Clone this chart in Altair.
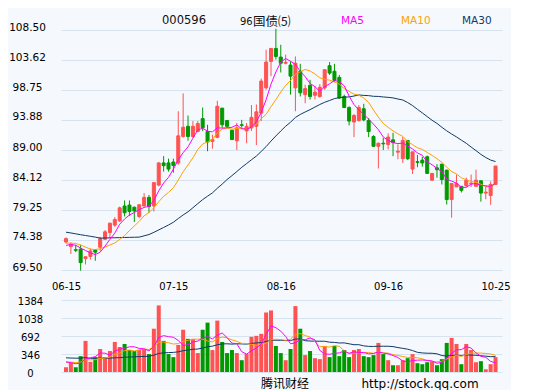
import altair as alt
import pandas as pd

# ---- axis ticks / labels ----
date_tick_index = [1, 23, 45, 67, 89]
date_tick_label = ["06-15", "07-15", "08-16", "09-16", "10-25"]
price_ticks = [69.50, 74.38, 79.25, 84.12, 89.00, 93.88, 98.75, 103.62, 108.50]
volume_ticks = [0, 346, 692, 1038, 1384]

# ---- daily candles 06-15 .. 10-25 ----
opens = [74.05, 73.3, 72.8, 72.9, 71.35, 71.7, 72.75, 73.2, 74.5, 75.6,
         76.8, 77.5, 79.9, 80.05, 79.7, 78.2, 79.9, 81.3, 79.9, 83.3,
         86.9, 86.9, 87.05, 86.9, 91.2, 92.85, 91.2, 92.0, 94.1, 92.0,
         90.4, 91.06, 95.8, 93.8, 92.2, 90.5, 93.1, 92.1, 92.6, 92.85,
         95.0, 99.1, 103.4, 105.5, 104.1, 103.1, 102.8, 99.1, 101.8, 98.0,
         99.5, 97.9, 97.7, 99.1, 102.7, 101.8, 100.8, 97.7, 95.9, 93.55,
         93.8, 95.7, 93.8, 91.2, 89.6, 90.1, 89.9, 90.65, 88.65, 87.6,
         90.55, 85.9, 87.1, 87.35, 87.9, 84.1, 86.1, 86.7, 85.72, 80.95,
         83.0, 83.1, 83.2, 83.5, 83.1, 84.0, 82.0, 81.6, 83.4]
highs = [74.8, 74.0, 73.6, 73.6, 71.7, 73.0, 72.9, 74.9, 76.0, 77.2,
         78.1, 79.8, 80.8, 80.8, 79.8, 80.2, 82.0, 81.7, 83.8, 87.0,
         88.0, 87.6, 87.6, 95.3, 98.2, 94.6, 93.7, 93.7, 95.9, 93.1,
         91.5, 97.0, 95.8, 93.8, 92.3, 93.4, 93.9, 93.4, 96.3, 96.4,
         100.6, 105.3, 105.5, 108.7, 106.1, 104.5, 103.4, 104.2, 103.0, 99.6,
         100.4, 99.4, 99.7, 102.05, 103.3, 103.0, 101.2, 98.0, 96.1, 94.85,
         96.3, 96.5, 94.2, 91.4, 90.2, 91.0, 91.7, 91.8, 89.9, 91.1,
         90.55, 88.7, 88.2, 87.9, 88.1, 85.2, 86.7, 86.7, 85.8, 83.55,
         85.0, 83.1, 84.5, 85.0, 85.8, 84.0, 83.2, 83.9, 86.4]
lows = [73.8, 72.1, 72.4, 69.4, 70.4, 71.2, 71.0, 72.6, 74.4, 74.7,
        76.5, 77.3, 78.2, 78.3, 77.3, 77.9, 79.8, 78.8, 79.0, 83.1,
        85.5, 85.5, 85.3, 86.6, 91.0, 90.5, 91.0, 91.9, 92.1, 88.8,
        89.2, 90.9, 92.6, 92.6, 90.6, 89.0, 92.6, 90.1, 92.1, 89.8,
        93.7, 98.8, 101.0, 103.7, 101.6, 102.9, 98.0, 95.3, 97.7, 96.6,
        97.2, 97.2, 97.5, 98.8, 101.2, 100.05, 97.3, 95.8, 93.0, 91.1,
        93.6, 93.66, 91.1, 89.5, 86.0, 89.0, 89.1, 88.0, 87.5, 86.9,
        87.4, 85.1, 86.2, 86.3, 85.15, 84.0, 84.5, 83.4, 80.14, 78.0,
        83.0, 82.1, 83.0, 83.0, 83.0, 80.6, 81.0, 80.1, 83.3]
closes = [74.6, 73.7, 72.7, 70.7, 71.65, 72.6, 72.4, 74.6, 75.7, 77.1,
          77.7, 79.6, 78.8, 79.0, 79.1, 80.1, 81.3, 79.8, 83.7, 86.9,
          86.45, 85.9, 86.5, 91.3, 92.7, 91.2, 92.85, 93.3, 92.6, 90.3,
          90.7, 96.1, 93.1, 92.85, 90.7, 92.6, 93.0, 92.85, 94.3, 95.2,
          100.2, 103.3, 105.5, 104.2, 103.1, 103.25, 101.0, 103.1, 98.3, 98.97,
          97.7, 98.4, 99.2, 102.05, 101.5, 100.3, 97.45, 95.9, 93.7, 94.6,
          95.9, 93.9, 92.0, 89.6, 90.1, 90.0, 91.1, 90.2, 88.8, 90.55,
          87.57, 88.7, 87.0, 86.9, 85.2, 85.2, 85.8, 84.2, 80.95, 83.55,
          83.55, 82.45, 84.1, 83.6, 84.1, 82.0, 82.15, 83.4, 86.4]
volumes = [91, 175, 91, 305, 598, 195, 286, 442, 286, 403,
           578, 481, 539, 422, 403, 422, 442, 344, 832, 1280,
           598, 344, 286, 520, 812, 637, 637, 364, 812, 949,
           422, 988, 578, 364, 422, 364, 227, 344, 676, 695,
           734, 1144, 1183, 500, 364, 227, 442, 1267, 832, 325,
           403, 266, 247, 500, 286, 500, 305, 422, 286, 422,
           442, 305, 286, 325, 559, 344, 227, 130, 130, 227,
           266, 344, 169, 150, 188, 208, 130, 247, 559, 656,
           539, 150, 539, 422, 188, 208, 52, 150, 286]

# ---- sessions before 06-15 (only feed the moving averages; estimated from the MA lines) ----
prev_closes = [77.5, 77.0, 75.0, 75.5, 76.5, 76.3, 79.5, 75.1, 76.5, 77.1,
               79.0, 78.2, 78.4, 78.5, 79.5, 75.0, 73.5, 73.0, 75.0, 74.5,
               74.0, 73.0, 73.3, 75.0, 76.0, 73.0, 73.3, 73.0, 73.6]
prev_volumes = [300, 180, 260, 320, 600, 230, 280, 480, 300, 400,
                400, 280, 310, 300, 260, 350, 220, 240, 260, 310,
                150, 200, 180, 160, 230, 250, 190, 240, 200]

RED, GREEN = "#ff5252", "#009900"
C5, C10, C30 = "#ff00ff", "#ffa200", "#0f3a68"
BG, GRID = "#f5f8fc", "#d7e4ef"
FONT, CJK = "DejaVu Sans", "Noto Sans CJK SC"

rows = []
n_prev = len(prev_closes)
for k in range(n_prev):
    rows.append({"i": k - n_prev + 1, "close": prev_closes[k], "vol": prev_volumes[k]})
for k in range(len(closes)):
    rows.append({"i": k + 1, "open": opens[k], "high": highs[k], "low": lows[k],
                 "close": closes[k], "vol": volumes[k]})
df = pd.DataFrame(rows)

srt = [alt.SortField("i", order="ascending")]
base = (alt.Chart(df)
        .transform_window(ma5="mean(close)", vma5="mean(vol)", frame=[-4, 0], sort=srt)
        .transform_window(ma10="mean(close)", vma10="mean(vol)", frame=[-9, 0], sort=srt)
        .transform_window(ma30="mean(close)", vma30="mean(vol)", frame=[-29, 0], sort=srt)
        .transform_filter("datum.i >= 1")
        .transform_calculate(dir="datum.close >= datum.open ? 'up' : 'down'"))

xscale = alt.Scale(domain=[1, 89.3], nice=False, zero=False)
label_expr = " : ".join(f"datum.value == {i} ? '{t}'" for i, t in zip(date_tick_index, date_tick_label)) + " : ''"
x_price = alt.X("i:Q", scale=xscale,
                axis=alt.Axis(values=date_tick_index, labelExpr=label_expr, title=None, grid=False,
                              ticks=False, tickSize=0, domain=False, labelPadding=11, labelFontSize=10,
                              labelOverlap=False, labelFlush=False))
x_vol = alt.X("i:Q", scale=xscale, axis=None)

yscale = alt.Scale(domain=[69.5, 108.5], nice=False, zero=False)
y_axis = alt.Axis(values=price_ticks, format=".2f", title=None, ticks=False, tickSize=0, domain=False,
                  labelPadding=34, labelAlign="center", labelBaseline="alphabetic", labelFontSize=10.5,
                  grid=True, gridColor=GRID, labelOverlap=False)
vscale = alt.Scale(domain=[0, 1384], nice=False, zero=True)
v_axis = alt.Axis(values=volume_ticks, format="d", title=None, ticks=False, tickSize=0, domain=False,
                  labelPadding=31, labelAlign="center", labelBaseline="middle", labelOffset=1,
                  labelFontSize=10, grid=True, gridColor=GRID, labelOverlap=False)

cscale = alt.Scale(domain=["up", "down"], range=[RED, GREEN])
color_enc = alt.Color("dir:N", scale=cscale, legend=None)
stroke_enc = alt.Stroke("dir:N", scale=cscale, legend=None)


def label(text, px, py, color, size, font, align="left"):
    return (alt.Chart(pd.DataFrame({"t": [text]}))
            .mark_text(text=text, align=align, baseline="middle", fontSize=size, font=font, color=color)
            .encode(x=alt.value(px), y=alt.value(py)))


wicks = base.mark_rule(strokeWidth=1).encode(
    x=x_price, y=alt.Y("low:Q", scale=yscale, axis=y_axis), y2="high:Q", color=color_enc)
bodies = base.mark_bar(size=3, strokeWidth=1).encode(
    x=x_price, y=alt.Y("open:Q", scale=yscale, axis=y_axis), y2="close:Q",
    color=color_enc, stroke=stroke_enc)
ma_lines = [base.mark_line(strokeWidth=1, color=c).encode(
    x=x_price, y=alt.Y(f"{f}:Q", scale=yscale, axis=y_axis))
    for f, c in [("ma30", C30), ("ma10", C10), ("ma5", C5)]]

header = [
    label("000596", 123, -9, "#111", 11.5, FONT, "center"),
    label("96", 179, -8.5, "#111", 10, FONT),
    label("国债⑸", 192, -8.5, "#111", 12.5, CJK),
    label("MA5", 280, -9, C5, 10.5, FONT),
    label("MA10", 340, -9, C10, 10.5, FONT),
    label("MA30", 401, -9, C30, 10.5, FONT),
]

price = alt.layer(wicks, bodies, *ma_lines, *header).properties(width=441, height=240)

vbars = base.mark_bar(size=4).encode(
    x=x_vol, y=alt.Y("vol:Q", scale=vscale, axis=v_axis), color=color_enc)
vma_lines = [base.mark_line(strokeWidth=1, color=c).encode(
    x=x_vol, y=alt.Y(f"{f}:Q", scale=vscale, axis=v_axis))
    for f, c in [("vma30", C30), ("vma10", C10), ("vma5", C5)]]
footer = [
    label("腾讯财经", 200, 84, "#000", 12, CJK),
    label("http://stock.qq.com", 300.5, 84, "#000", 12, FONT),
]
volume = alt.layer(vbars, *vma_lines, *footer).properties(width=441, height=72)

chart = (alt.vconcat(price, volume, spacing=30, bounds="flush")
         .properties(padding={"left": 0, "top": 7, "right": 0, "bottom": 0}, background=BG)
         .configure_view(stroke=None)
         .configure_axis(labelFont=FONT, labelColor="#000"))

chart.save("out.html", embed_options={"renderer": "svg", "actions": False})
